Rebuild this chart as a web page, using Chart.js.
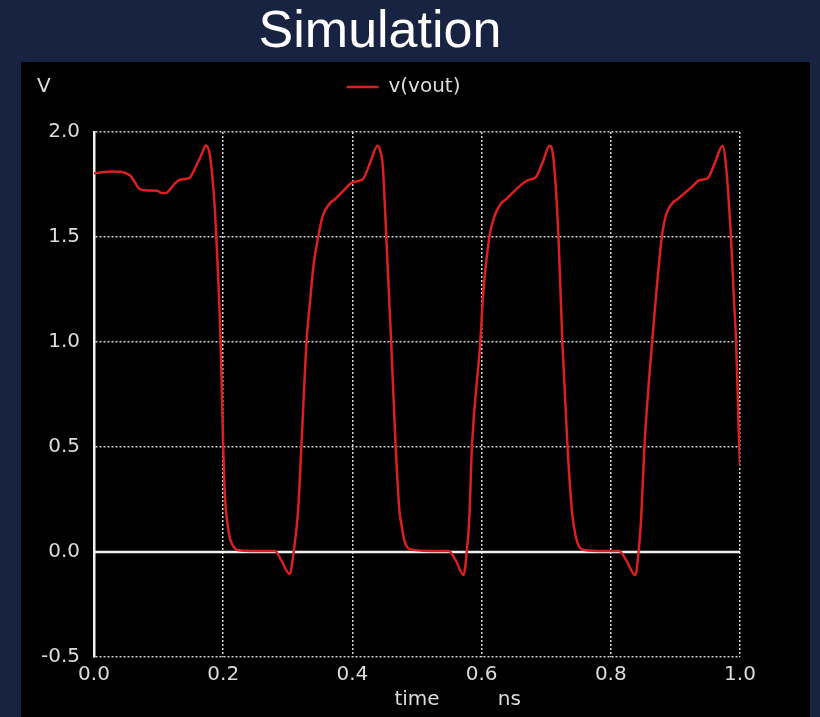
<!DOCTYPE html>
<html>
<head>
<meta charset="utf-8">
<script src="https://cdn.jsdelivr.net/npm/chart.js@4.4.1/dist/chart.umd.min.js"></script>
<style>
  html, body { margin: 0; padding: 0; }
  body { width: 820px; height: 717px; background: #172340; position: relative; overflow: hidden; }
  #title { position: absolute; left: 0; top: 3px; width: 760px; text-align: center;
           font-family: "Liberation Sans", Arial, sans-serif; font-size: 52px; line-height: 52px; color: #fff; }
  #panel { position: absolute; left: 21px; top: 62px; width: 789px; height: 655px; background: #000; }
  canvas { display: block; }
</style>
</head>
<body>
<div id="title">Simulation</div>
<div id="panel"><canvas id="myChart" width="789" height="655"></canvas></div>
<script>
// transient result, time in ns
const timeNs = [
  0.000, 0.030, 0.043, 0.056, 0.063, 0.070, 0.081, 0.098, 0.105, 0.111, 0.125, 0.133, 0.148, 0.156, 0.167, 0.173, 0.179, 0.183, 0.187, 0.190, 0.196, 0.200, 0.203, 0.206, 0.210, 0.215, 0.222, 0.250, 0.280, 0.290, 0.303, 0.309, 0.316,
  0.321, 0.329, 0.335, 0.340, 0.347, 0.354, 0.365, 0.373, 0.386, 0.400, 0.416, 0.427, 0.439, 0.444, 0.447, 0.4525, 0.460, 0.467, 0.473, 0.476, 0.480, 0.488, 0.520, 0.549, 0.560, 0.572, 0.577, 0.581,
  0.585, 0.598, 0.602, 0.612, 0.620, 0.630, 0.638, 0.658, 0.671, 0.684, 0.695, 0.705, 0.711, 0.719, 0.725, 0.733, 0.740, 0.746, 0.751, 0.759, 0.790, 0.813, 0.824, 0.838, 0.843, 0.847,
  0.852, 0.864, 0.879, 0.885, 0.895, 0.903, 0.926, 0.937, 0.950, 0.962, 0.973, 0.978, 0.986, 0.991, 0.994, 0.998, 1.000
];
const vout = [
  1.804, 1.812, 1.810, 1.793, 1.762, 1.730, 1.722, 1.720, 1.709, 1.709, 1.754, 1.773, 1.782, 1.825, 1.896, 1.936, 1.896, 1.793, 1.637, 1.460, 1.000, 0.500, 0.250, 0.150, 0.070, 0.030, 0.010, 0.005, 0.005, -0.040, -0.105, 0.000, 0.200,
  0.500, 1.000, 1.210, 1.370, 1.500, 1.600, 1.660, 1.680, 1.720, 1.760, 1.775, 1.850, 1.935, 1.900, 1.840, 1.500, 1.000, 0.500, 0.190, 0.130, 0.060, 0.015, 0.005, 0.005, -0.040, -0.110, 0.000, 0.160,
  0.500, 1.000, 1.210, 1.500, 1.600, 1.660, 1.680, 1.740, 1.770, 1.785, 1.860, 1.935, 1.880, 1.500, 1.000, 0.500, 0.190, 0.070, 0.025, 0.010, 0.005, 0.005, -0.040, -0.110, 0.000, 0.160,
  0.500, 1.000, 1.500, 1.600, 1.660, 1.680, 1.740, 1.770, 1.780, 1.860, 1.935, 1.850, 1.500, 1.180, 1.000, 0.580, 0.410
];
const xTicks = [0.0, 0.2, 0.4, 0.6, 0.8, 1.0];
const yTicks = [-0.5, 0.0, 0.5, 1.0, 1.5, 2.0];
const zeroLevel = [0, 0];
const seriesName = "v(vout)";

const textColor = "#dcdcdc";
const gridColor = "#d4d4d4";
const font = { family: "'DejaVu Sans', sans-serif", size: 20 };

// legend: extra room below it, and nudged a bit right of centre
const legendTweak = {
  id: "legendTweak",
  beforeInit(chart) {
    const fit = chart.legend.fit;
    chart.legend.fit = function () {
      fit.bind(chart.legend)();
      this.height += 25;
    };
  },
  afterLayout(chart) {
    chart.legend.left += 23;
    chart.legend.right += 23;
  },
};

// "V" at top left, unit "ns" next to the x title
const axisNotes = {
  id: "axisNotes",
  afterDraw(chart) {
    const ctx = chart.ctx;
    const area = chart.chartArea;
    ctx.save();
    ctx.font = "20px 'DejaVu Sans'";
    ctx.fillStyle = textColor;
    ctx.textBaseline = "middle";
    ctx.textAlign = "left";
    ctx.fillText("V", 16, 25);
    ctx.textAlign = "center";
    ctx.fillText("ns", area.left + (area.right - area.left) * 0.643, chart.height - 17);
    ctx.restore();
  },
};

const points = timeNs.map((t, i) => ({ x: t, y: vout[i] }));
const zeroPoints = zeroLevel.map((v, i) => ({ x: xTicks[i * (xTicks.length - 1)], y: v }));

const ctx = document.getElementById("myChart").getContext("2d");
new Chart(ctx, {
  type: "line",
  data: {
    datasets: [
      {
        label: seriesName,
        data: points,
        borderColor: "#dd1f1f",
        backgroundColor: "#dd1f1f",
        borderWidth: 2.5,
        pointRadius: 0,
        cubicInterpolationMode: "monotone",
      },
      {
        label: "zero",
        data: zeroPoints,
        borderColor: "#f2f2f2",
        borderWidth: 2.5,
        pointRadius: 0,
      },
    ],
  },
  options: {
    responsive: false,
    animation: false,
    layout: { padding: { left: 0, right: 70, top: 5, bottom: 0 } },
    plugins: {
      tooltip: { enabled: false },
      legend: {
        position: "top",
        labels: {
          color: textColor,
          font: font,
          usePointStyle: true,
          pointStyle: "line",
          pointStyleWidth: 32,
          filter: item => item.text === seriesName,
        },
      },
    },
    scales: {
      x: {
        type: "linear",
        min: xTicks[0],
        max: xTicks[xTicks.length - 1],
        afterBuildTicks: scale => { scale.ticks = xTicks.map(v => ({ value: v })); },
        afterFit: scale => { scale.height = 60; },
        ticks: {
          color: textColor,
          font: font,
          padding: 6,
          maxRotation: 0,
          callback: v => v.toFixed(1),
        },
        grid: { color: gridColor, lineWidth: 1.5, drawTicks: false },
        border: { display: false, dash: [2, 2] },
        title: { display: true, text: "time", color: textColor, font: font, padding: { top: 0, bottom: 5 } },
      },
      y: {
        type: "linear",
        min: yTicks[0],
        max: yTicks[yTicks.length - 1],
        afterBuildTicks: scale => { scale.ticks = yTicks.map(v => ({ value: v })); },
        afterFit: scale => { scale.width = 73; },
        ticks: {
          color: textColor,
          font: font,
          padding: 14,
          callback: v => v.toFixed(1),
        },
        grid: { color: gridColor, lineWidth: 1.5, drawTicks: false },
        border: { display: true, color: "#f2f2f2", width: 2.5, dash: [2, 2] },
      },
    },
  },
  plugins: [legendTweak, axisNotes],
});
</script>
</body>
</html>
